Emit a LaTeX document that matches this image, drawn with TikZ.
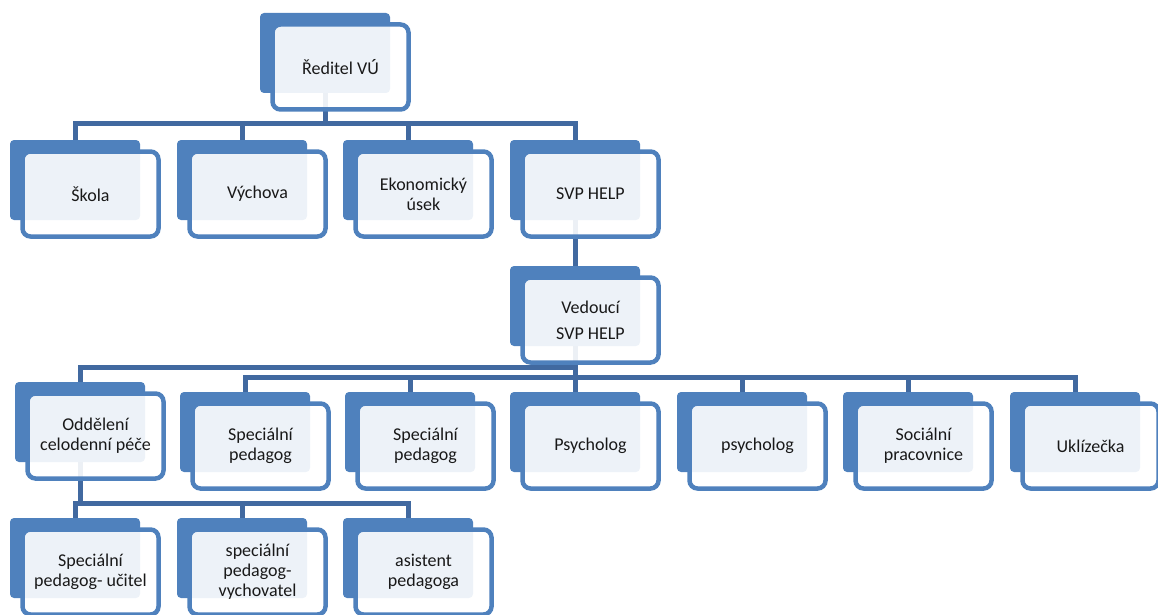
\documentclass[tikz,border=0pt]{standalone}
\usepackage{fontspec}
\setmainfont{Carlito}
\definecolor{boxblue}{HTML}{4F81BD}
\definecolor{lineblue}{HTML}{4169A0}
\tikzset{
  back/.style={rectangle, rounded corners=4pt, fill=boxblue, minimum width=130pt, minimum height=80pt, inner sep=0pt},
  front/.style={rectangle, rounded corners=8pt, draw=boxblue, line width=4.5pt, fill=white, fill opacity=0.9, text opacity=1, minimum width=136pt, minimum height=85pt, align=center, font=\fontsize{18}{20}\selectfont, text=black!90},
  conn/.style={draw=lineblue, line width=5pt}
}
\begin{document}
\begin{tikzpicture}[x=1pt, y=-1pt]
\useasboundingbox (0,0) rectangle (1158,615);
%zadni obdelniky
\node[back] (reditel) at (325,53) {};
\node[back] (skola) at (75,180) {};
\node[back] (vychova) at (242,180) {};
\node[back] (ekonom) at (408,180) {};
\node[back] (svp) at (575,180) {};
\node[back] (vedouci) at (575,306) {};
\node[back] (oddeleni) at (80,422) {};
\node[back] (specped) at (245,432) {};
\node[back] (specpedb) at (410,432) {};
\node[back] (psych) at (575,432) {};
\node[back] (psychb) at (742,432) {};
\node[back] (social) at (908,432) {};
\node[back] (uklid) at (1075,432) {};
\node[back] (ucitel) at (75,558) {};
\node[back] (vychovatel) at (242,558) {};
\node[back] (asistent) at (408,558) {};
%spojnice
\foreach \c in {skola,vychova,ekonom,svp}
  \draw[conn] (reditel.south) -- ++(0,30) -| (\c.north);
\draw[conn] (svp.south) -- (vedouci.north);
\draw[conn] (vedouci.south) -- ++(0,21) -| (oddeleni.north);
\foreach \c in {specped,specpedb,psych,psychb,social,uklid}
  \draw[conn] (vedouci.south) -- ++(0,31) -| (\c.north);
\foreach \c in {ucitel,vychovatel,asistent}
  \draw[conn] (oddeleni.south) -- ++(0,41) -| (\c.north);
%predni obdelniky s textem
\node[front] (reditel-t) at ([shift={(15.5,14)}]reditel.center) {Ředitel VÚ};
\node[front] (skola-t) at ([shift={(15.5,14)}]skola.center) {Škola};
\node[front] (vychova-t) at ([shift={(15.5,14)}]vychova.center) {Výchova};
\node[front] (ekonom-t) at ([shift={(15.5,14)}]ekonom.center) {Ekonomický\\úsek};
\node[front] (svp-t) at ([shift={(15.5,14)}]svp.center) {SVP HELP};
\node[front] (vedouci-t) at ([shift={(15.5,14)}]vedouci.center) {Vedoucí\\[6pt]SVP HELP};
\node[front] (oddeleni-t) at ([shift={(15.5,14)}]oddeleni.center) {Oddělení\\celodenní péče};
\node[front] (specped-t) at ([shift={(15.5,14)}]specped.center) {Speciální\\pedagog};
\node[front] (specpedb-t) at ([shift={(15.5,14)}]specpedb.center) {Speciální\\pedagog};
\node[front] (psych-t) at ([shift={(15.5,14)}]psych.center) {Psycholog};
\node[front] (psychb-t) at ([shift={(15.5,14)}]psychb.center) {psycholog};
\node[front] (social-t) at ([shift={(15.5,14)}]social.center) {Sociální\\pracovnice};
\node[front] (uklid-t) at ([shift={(15.5,14)}]uklid.center) {Uklízečka};
\node[front] (ucitel-t) at ([shift={(15.5,14)}]ucitel.center) {Speciální\\pedagog- učitel};
\node[front] (vychovatel-t) at ([shift={(15.5,14)}]vychovatel.center) {speciální\\pedagog-\\vychovatel};
\node[front] (asistent-t) at ([shift={(15.5,14)}]asistent.center) {asistent\\pedagoga};
\end{tikzpicture}
\end{document}
